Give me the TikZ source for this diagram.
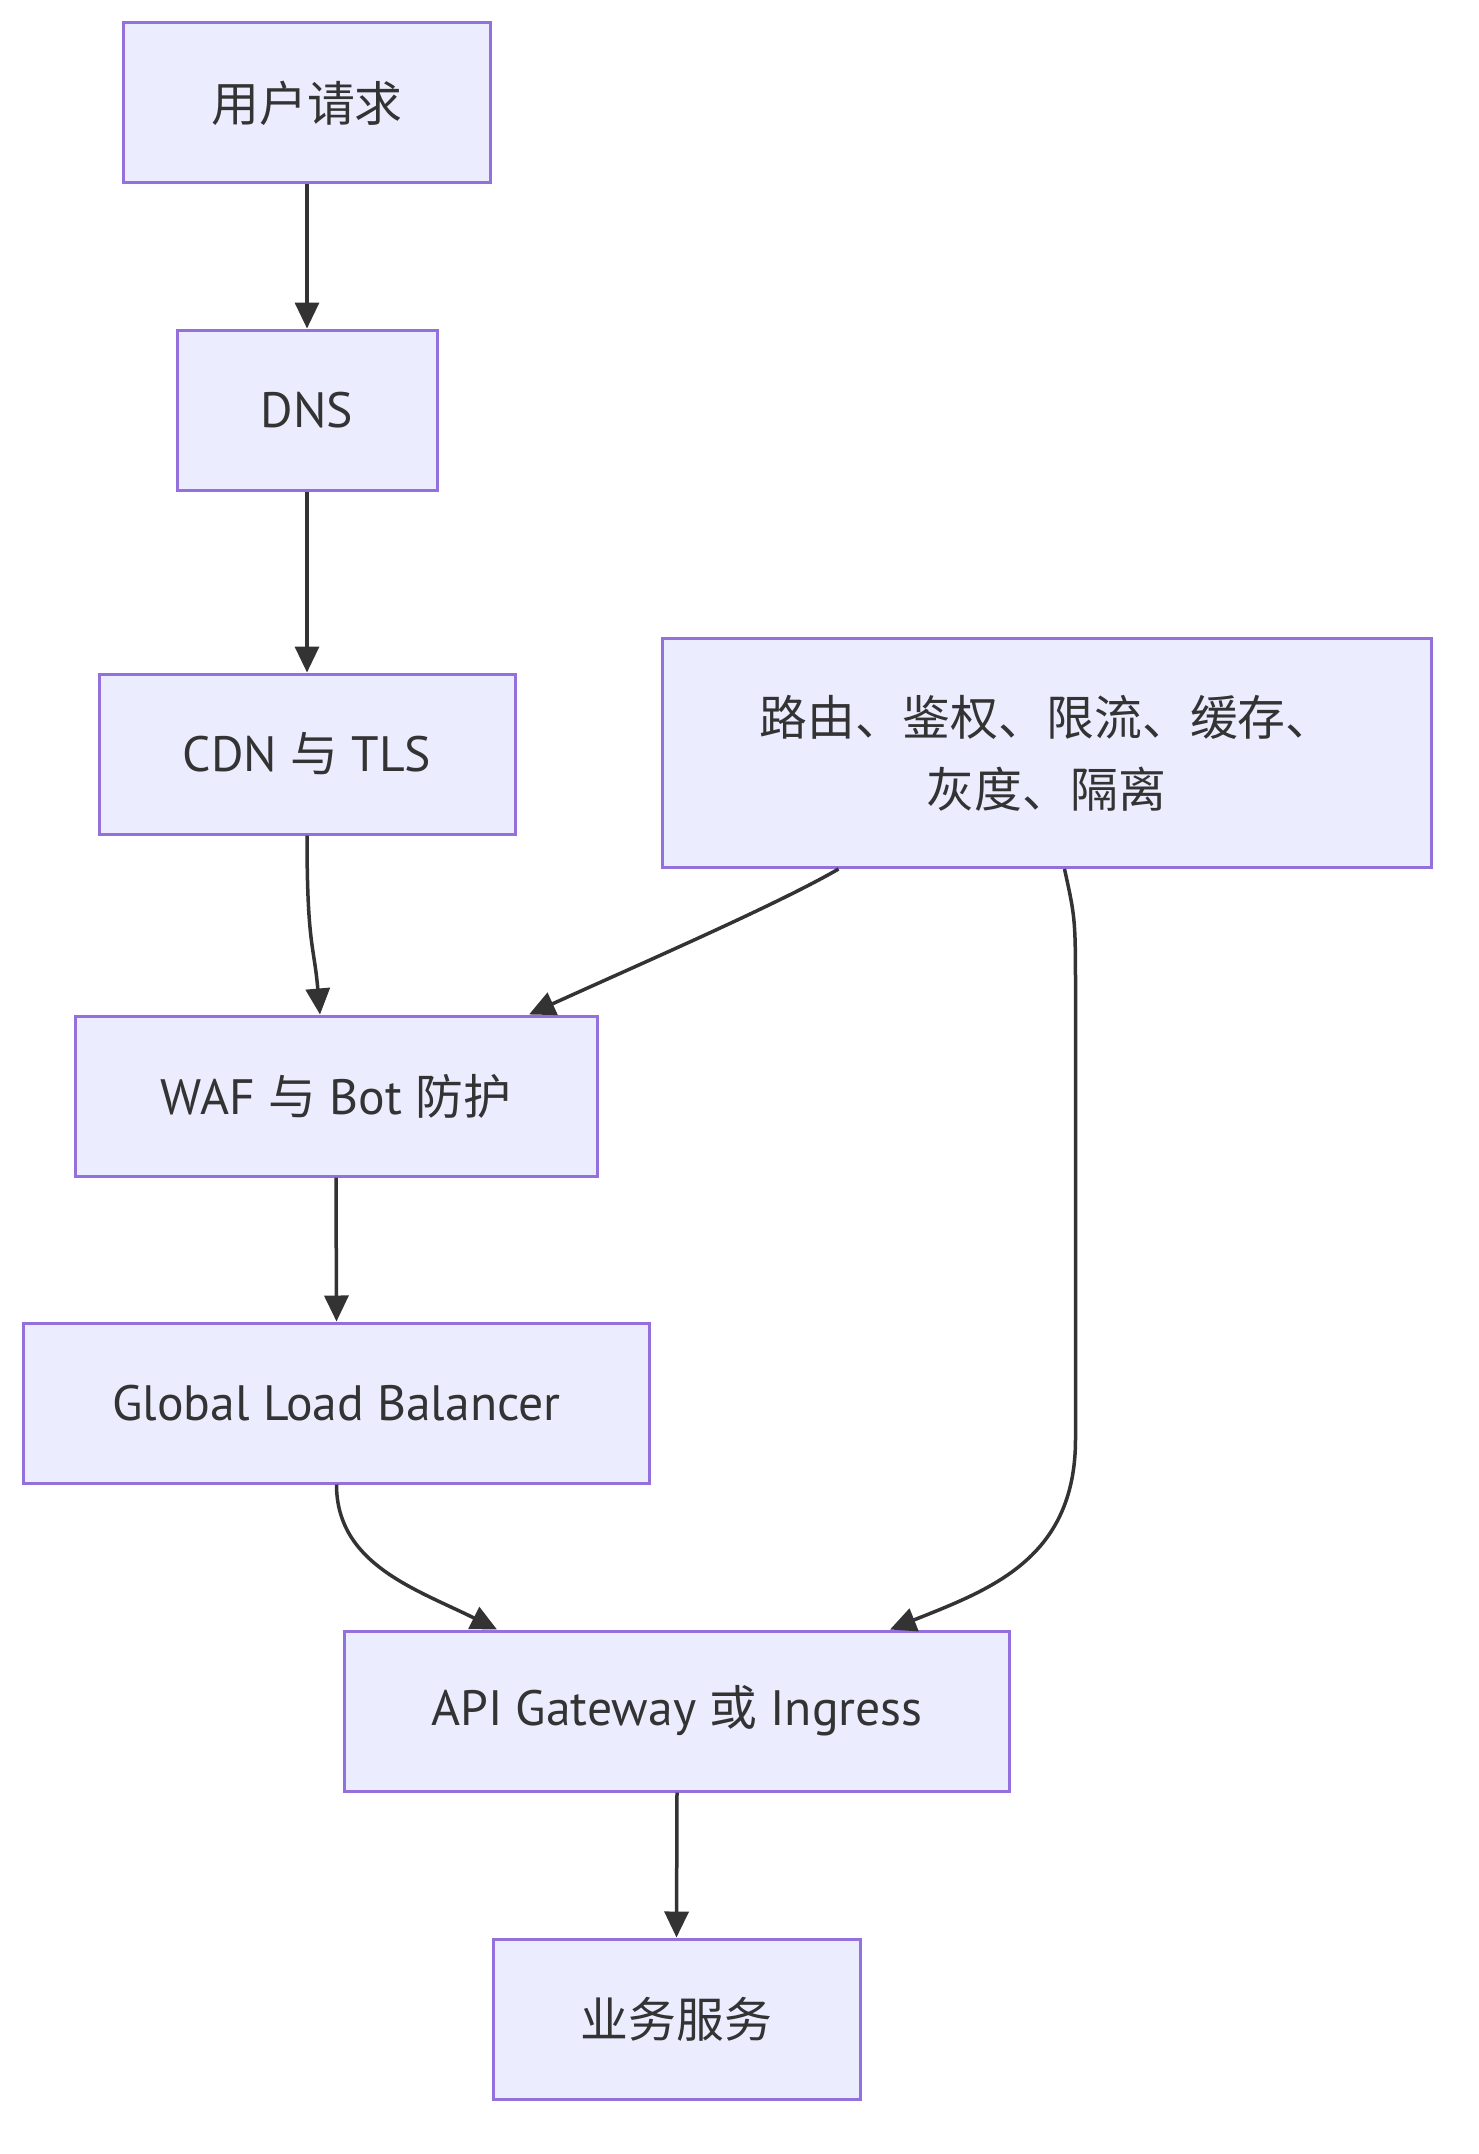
\documentclass[tikz,border=0pt]{standalone}
\usepackage{fontspec}
\setmainfont[Scale=1.08]{PT Sans}
\newfontfamily\cjk[Scale=1.04]{Noto Sans CJK SC}
\usetikzlibrary{arrows.meta}
\definecolor{nodefill}{HTML}{ECECFF}
\definecolor{nodeline}{HTML}{9370DB}
\definecolor{ink}{HTML}{333333}
\tikzset{
  box/.style={draw=nodeline, fill=nodefill, line width=3pt, inner sep=0pt,
    text=ink, font=\fontsize{46}{72}\selectfont, align=center},
  conn/.style={draw=ink, line width=3.5pt, -{Triangle[length=26pt,width=24pt]}}
}
\begin{document}
\begin{tikzpicture}[x=1pt,y=-1pt]
\useasboundingbox (0,0) rectangle (1479,2154);
\node[box, minimum width=367pt, minimum height=160pt] (A) at (307,103) {\cjk 用户请求};
\node[box, minimum width=260pt, minimum height=160pt] (B) at (307,410) {DNS};
\node[box, minimum width=416pt, minimum height=160pt] (C) at (307,754) {CDN {\cjk 与} TLS};
\node[box, minimum width=522pt, minimum height=160pt] (D) at (336,1096) {WAF {\cjk 与} Bot {\cjk 防护}};
\node[box, minimum width=626pt, minimum height=160pt] (E) at (336.5,1403) {Global Load Balancer};
\node[box, minimum width=665pt, minimum height=160pt] (F) at (677,1711) {API Gateway {\cjk 或} Ingress};
\node[box, minimum width=367pt, minimum height=160pt] (G) at (676.5,2019) {\cjk 业务服务};
\node[box, minimum width=769pt, minimum height=229pt] (H) at (1046.5,753) {\cjk 路由、鉴权、限流、缓存、\\\cjk 灰度、隔离};

\draw[conn] (A.south) -- (B.north);
\draw[conn] (B.south) -- (C.north);
\draw[conn] (C.south) .. controls +(0,110) and +(-6,-70) .. ([xshift=-16pt]D.north);
\draw[conn] ([xshift=-208pt]H.south) .. controls +(-60,35) and +(110,-50) .. ([xshift=193pt]D.north);
\draw[conn] (D.south) -- (E.north);
\draw[conn] (E.south) .. controls +(0,80) and +(-80,-40) .. ([xshift=-180pt]F.north);
\draw[conn] ([xshift=18pt]H.south) .. controls +(11,50) .. ++(11,130) -- ++(0,440)
  .. controls +(0,120) and +(100,-40) .. ([xshift=213pt]F.north);
\draw[conn] (F.south) -- (G.north);
\end{tikzpicture}
\end{document}
